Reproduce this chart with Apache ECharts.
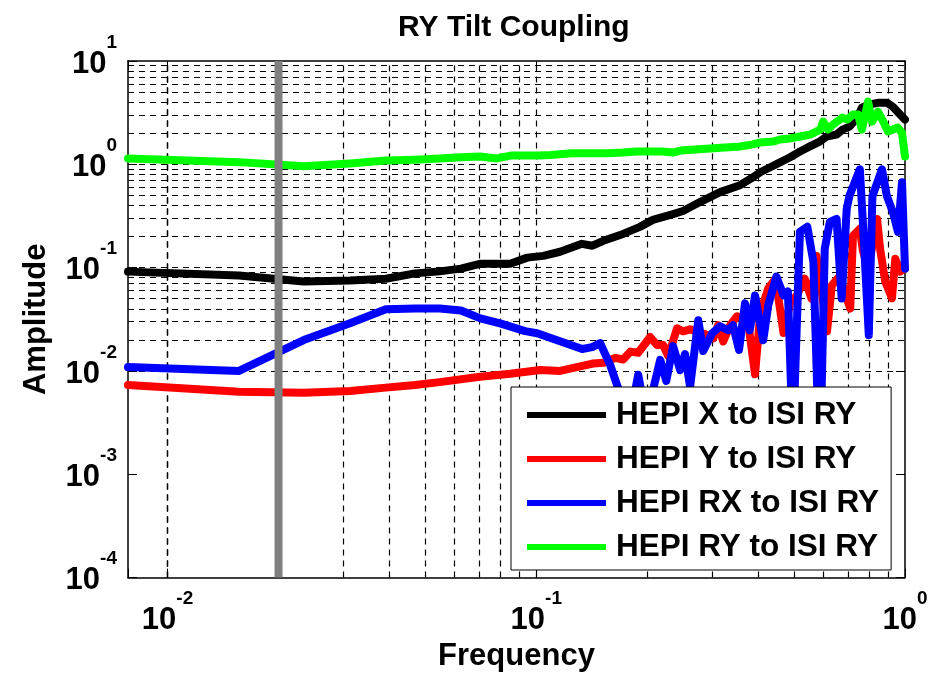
<!DOCTYPE html>
<html>
<head>
<meta charset="utf-8">
<script src="https://cdn.jsdelivr.net/npm/echarts@6/dist/echarts.min.js"></script>
<style>
html,body{margin:0;padding:0;background:#fff;}
#chart{width:931px;height:677px;}
</style>
</head>
<body>
<div id="chart"></div>
<script>
// ---------- data ----------
const seriesNames = ['HEPI X to ISI RY', 'HEPI Y to ISI RY', 'HEPI RX to ISI RY', 'HEPI RY to ISI RY'];

const freqX = [0.0078125, 0.015625, 0.0234, 0.03125, 0.0391, 0.0469, 0.0547, 0.0625, 0.0703, 0.085, 0.0945, 0.1045, 0.116, 0.133, 0.142, 0.152, 0.172, 0.191, 0.207, 0.235, 0.25, 0.278, 0.315, 0.357, 0.387, 0.405, 0.431, 0.458, 0.488, 0.519, 0.552, 0.587, 0.613, 0.652, 0.677, 0.707, 0.742, 0.764, 0.798, 0.849, 0.893, 0.927, 0.970, 1.0];
const ampX = [0.0915, 0.0838, 0.0733, 0.075, 0.078, 0.088, 0.092, 0.0978, 0.109, 0.109, 0.125, 0.130, 0.1425, 0.170, 0.163, 0.182, 0.212, 0.248, 0.29, 0.33, 0.353, 0.431, 0.538, 0.628, 0.75, 0.838, 0.936, 1.045, 1.17, 1.33, 1.49, 1.66, 1.86, 1.94, 2.17, 2.32, 2.83, 3.53, 3.78, 3.95, 3.95, 3.61, 3.03, 2.71];

const freqY = [0.0078125, 0.015625, 0.0234, 0.03125, 0.0391, 0.0469, 0.0547, 0.0703, 0.085, 0.1025, 0.116, 0.1316, 0.1427, 0.1524, 0.1637, 0.172, 0.180, 0.189, 0.2036, 0.2127, 0.2209, 0.228, 0.2409, 0.2502, 0.2613, 0.275, 0.2874, 0.302, 0.3115, 0.3214, 0.3356, 0.3504, 0.3615, 0.3749, 0.392, 0.4051, 0.4258, 0.4457, 0.4683, 0.4883, 0.5092, 0.5346, 0.5578, 0.5753, 0.5929, 0.6145, 0.6334, 0.6665, 0.687, 0.7104, 0.7226, 0.7543, 0.7687, 0.7937, 0.8131, 0.84, 0.8561, 0.8833, 0.9218, 0.941, 0.9695, 1.0];
const ampY = [0.00733, 0.00628, 0.00614, 0.0064, 0.0069, 0.0073, 0.0078, 0.0088, 0.0094, 0.0102, 0.0100, 0.0111, 0.0118, 0.0120, 0.0134, 0.0129, 0.0154, 0.0150, 0.0213, 0.0178, 0.0178, 0.0139, 0.0259, 0.0242, 0.0253, 0.0236, 0.0227, 0.0207, 0.0277, 0.0193, 0.0277, 0.0338, 0.0323, 0.0308, 0.0093, 0.0362, 0.0633, 0.0783, 0.0233, 0.0452, 0.054, 0.0783, 0.050, 0.130, 0.0633, 0.0242, 0.0674, 0.0837, 0.0565, 0.0402, 0.203, 0.2375, 0.146, 0.098, 0.152, 0.296, 0.152, 0.074, 0.0505, 0.122, 0.0915, 0.098];

const freqRX = [0.0078125, 0.015625, 0.0234, 0.03125, 0.0391, 0.0469, 0.0547, 0.0625, 0.0705, 0.0798, 0.0933, 0.1005, 0.116, 0.1332, 0.1418, 0.149, 0.1587, 0.1688, 0.178, 0.189, 0.1974, 0.2061, 0.2168, 0.2252, 0.235, 0.2456, 0.2532, 0.2613, 0.275, 0.2837, 0.2998, 0.3153, 0.3312, 0.3417, 0.3547, 0.3683, 0.3796, 0.392, 0.4125, 0.4258, 0.448, 0.4683, 0.4813, 0.4965, 0.5189, 0.5434, 0.5643, 0.5874, 0.6058, 0.6254, 0.6523, 0.6733, 0.6949, 0.7067, 0.7543, 0.7687, 0.7977, 0.8159, 0.866, 0.8932, 0.927, 0.9569, 0.9815, 1.0];
const ampRX = [0.0109, 0.0100, 0.0199, 0.029, 0.0395, 0.0403, 0.0403, 0.0385, 0.0323, 0.0289, 0.0243, 0.0232, 0.0194, 0.0163, 0.0170, 0.0186, 0.0114, 0.006, 0.003, 0.0092, 0.004, 0.006, 0.0128, 0.0080, 0.0174, 0.0102, 0.0146, 0.0070, 0.0309, 0.0156, 0.0232, 0.0271, 0.0248, 0.0277, 0.0160, 0.0451, 0.0248, 0.0538, 0.0198, 0.0433, 0.0819, 0.0538, 0.0589, 0.002, 0.222, 0.249, 0.114, 0.001, 0.152, 0.277, 0.296, 0.0503, 0.369, 0.494, 0.895, 0.277, 0.0222, 0.492, 0.895, 0.492, 0.345, 0.222, 0.671, 0.0977];

const freqRY = [0.0078125, 0.015625, 0.0234, 0.03125, 0.0391, 0.0469, 0.0547, 0.0625, 0.0703, 0.0781, 0.0859, 0.0938, 0.1016, 0.1094, 0.125, 0.1406, 0.1563, 0.1719, 0.1875, 0.2188, 0.235, 0.246, 0.296, 0.357, 0.387, 0.405, 0.439, 0.458, 0.488, 0.519, 0.553, 0.589, 0.600, 0.618, 0.637, 0.676, 0.698, 0.723, 0.746, 0.764, 0.794, 0.814, 0.845, 0.873, 0.899, 0.927, 0.955, 0.981, 1.0];
const ampRY = [1.14, 1.05, 0.957, 1.02, 1.09, 1.11, 1.14, 1.17, 1.19, 1.14, 1.22, 1.22, 1.22, 1.23, 1.28, 1.28, 1.28, 1.30, 1.33, 1.33, 1.30, 1.36, 1.42, 1.49, 1.56, 1.63, 1.66, 1.74, 1.78, 1.86, 1.94, 2.17, 2.59, 2.17, 2.42, 2.83, 2.71, 3.03, 3.03, 2.17, 4.04, 2.59, 3.23, 2.59, 2.08, 2.17, 2.27, 2.03, 1.19];

const markerFreq = 0.02;          // grey vertical marker
const xRange = [0.0078125, 1];
const yRange = [1e-4, 10];

// ---------- styling / building ----------
const FF = "'Liberation Sans', Arial, Helvetica, sans-serif";
const colors = ['#000000', '#ff0000', '#0000ff', '#00ff00'];
const zip = (xs, ys) => xs.map((x, i) => [x, ys[i]]);

function powLabel(v) {
  const e = Math.log10(v);
  const r = Math.round(e);
  if (Math.abs(e - r) > 1e-6) return '';
  return '{b|10}{e|' + r + '}';
}
const labelRich = {
  b: { fontSize: 31, fontWeight: 'bold', fontFamily: FF, color: '#000', lineHeight: 56, padding: [6, 0, 0, 0] },
  e: { fontSize: 19, fontWeight: 'bold', fontFamily: FF, color: '#000', lineHeight: 19, verticalAlign: 'top' }
};

// grid positions (1..9 x decade) strictly inside the axis ranges
function gridValues(lo, hi) {
  const out = [];
  for (let d = Math.floor(Math.log10(lo)); d < Math.ceil(Math.log10(hi)); d++) {
    for (let m = 1; m <= 9; m++) {
      const v = m * Math.pow(10, d);
      if (v > lo * 1.0001 && v < hi * 0.9999) out.push(v);
    }
  }
  return out;
}
const gridLine = { color: '#000', width: 1.2, type: [6, 5] };
const gridLines = gridValues(xRange[0], xRange[1]).map(v => ({ xAxis: v }))
  .concat(gridValues(yRange[0], yRange[1]).map(v => ({ yAxis: v })));

const axisCommon = {
  type: 'log', logBase: 10,
  axisLine: { show: true, onZero: false, lineStyle: { color: '#000', width: 1.5 } },
  axisTick: { show: true, inside: true, length: 9, lineStyle: { color: '#000', width: 1 } },
  splitLine: { show: false }
};

const series = [
  { type: 'line', name: '_grid', data: [], z: 1, silent: true,
    markLine: { silent: true, z: 1, symbol: 'none', animation: false, label: { show: false },
      lineStyle: gridLine, emphasis: { disabled: true }, data: gridLines } }
];
const dataSets = [zip(freqX, ampX), zip(freqY, ampY), zip(freqRX, ampRX), zip(freqRY, ampRY)];
dataSets.forEach((d, i) => {
  series.push({
    type: 'line', name: seriesNames[i], data: d, showSymbol: false, symbol: 'none',
    color: colors[i], z: 2,
    lineStyle: { color: colors[i], width: 8, cap: 'round', join: 'round' },
    emphasis: { disabled: true }, animation: false
  });
});
series.push({
  type: 'line', name: '_marker', data: [[markerFreq, yRange[0]], [markerFreq, yRange[1]]],
  showSymbol: false, symbol: 'none', z: 3, silent: true, animation: false,
  lineStyle: { color: '#808080', width: 8 }, emphasis: { disabled: true }
});

const option = {
  backgroundColor: '#fff',
  animation: false,
  title: {
    text: 'RY Tilt Coupling', left: 393, top: 8,
    textStyle: { fontSize: 30, fontWeight: 'bold', fontFamily: FF, color: '#000' }
  },
  grid: { left: 128, right: 26, top: 61, bottom: 96, containLabel: false },
  legend: {
    data: seriesNames, orient: 'vertical', left: 511, top: 387,
    icon: 'rect', itemWidth: 79, itemHeight: 6, itemGap: 10,
    padding: [11, 12, 6, 16], backgroundColor: '#fff', borderColor: '#000', borderWidth: 1,
    selectedMode: false, z: 10,
    textStyle: { fontSize: 31.5, fontWeight: 'bold', fontFamily: FF, color: '#000', lineHeight: 34, padding: [0, 0, 0, 5] }
  },
  xAxis: [
    Object.assign({}, axisCommon, {
      position: 'bottom', min: xRange[0], max: xRange[1],
      name: 'Frequency', nameLocation: 'middle', nameGap: 60,
      nameTextStyle: { fontSize: 31, fontWeight: 'bold', fontFamily: FF, color: '#000' },
      axisLabel: { formatter: powLabel, rich: labelRich, margin: 12, showMinLabel: true, showMaxLabel: true }
    }),
    Object.assign({}, axisCommon, {
      position: 'top', min: xRange[0], max: xRange[1],
      axisLabel: { show: false }
    })
  ],
  yAxis: [
    Object.assign({}, axisCommon, {
      position: 'left', min: yRange[0], max: yRange[1],
      name: 'Amplitude', nameLocation: 'middle', nameGap: 76,
      nameTextStyle: { fontSize: 31, fontWeight: 'bold', fontFamily: FF, color: '#000' },
      axisLabel: { formatter: powLabel, rich: labelRich, margin: 11, showMinLabel: true, showMaxLabel: true }
    }),
    Object.assign({}, axisCommon, {
      position: 'right', min: yRange[0], max: yRange[1],
      axisLabel: { show: false }
    })
  ],
  series: series
};

const chart = echarts.init(document.getElementById('chart'), null, { renderer: 'canvas' });
chart.setOption(option);
</script>
</body>
</html>
